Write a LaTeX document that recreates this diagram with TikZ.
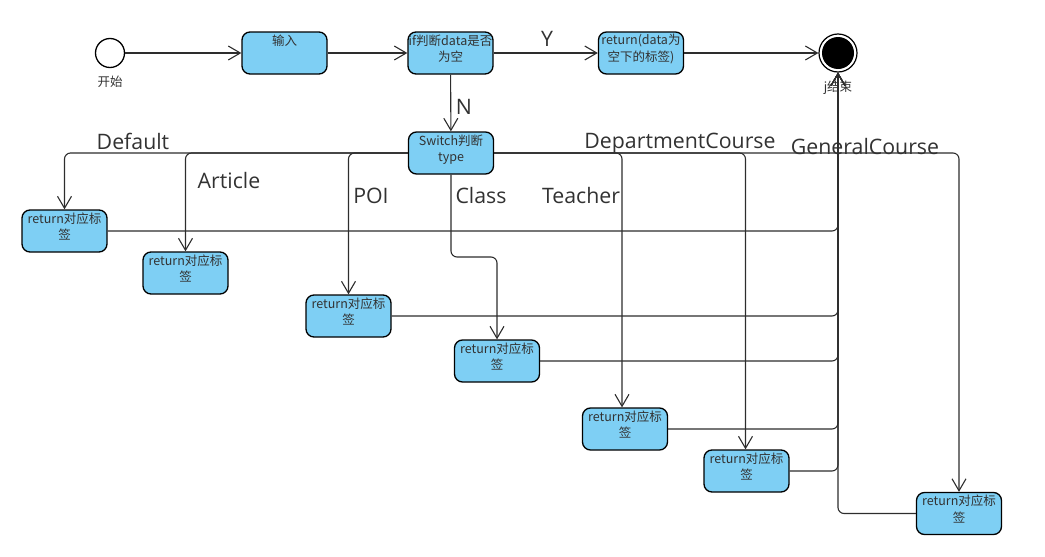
\documentclass[tikz,border=0pt]{standalone}
\usepackage{fontspec}
\setmainfont{Open Sans}
\newfontfamily\cjk{Noto Sans CJK SC}
\usetikzlibrary{arrows.meta}
\definecolor{boxblue}{RGB}{126,207,244}
\definecolor{ln}{RGB}{45,45,45}
\definecolor{txt}{RGB}{50,50,50}
\newcommand{\bxt}[1]{\parbox[c][42pt][t]{85pt}{\centering\vspace*{2.5pt}#1}}
\tikzset{
  box/.style={draw=black, line width=1.3pt, fill=boxblue, rounded corners=8pt,
    inner sep=0pt, minimum width=85pt, minimum height=42pt,
    font=\cjk\fontsize{12.5}{16.5}\selectfont, text=txt},
  conn/.style={draw=ln, line width=1.1pt, line join=round,
    -{Straight Barb[length=12pt,width=14pt,line width=1.1pt]}},
  bent/.style={conn, rounded corners=6pt},
  lbl/.style={font=\fontsize{21.3}{25}\selectfont, text=txt, inner sep=0pt, anchor=base},
  small/.style={font=\cjk\fontsize{12.5}{15}\selectfont, text=txt, inner sep=0pt},
}
\begin{document}
\begin{tikzpicture}[x=1pt,y=-1pt]
\useasboundingbox (0,0) rectangle (1045,557);
% start / end
\node[circle, draw=black, fill=white, line width=1.3pt, minimum size=29pt, inner sep=0pt] (st) at (110,53) {};
\node[small] (stl) at (110,82) {开始};
\node[circle, draw=black, fill=white, line width=1.2pt, minimum size=38pt, inner sep=0pt] (en) at (838,53) {};
\node[circle, fill=black, minimum size=32pt, inner sep=0pt] (eni) at (838,53) {};
\node[small] (enl) at (838,88) {j结束};
% top row
\node[box] (in) at (284.5,53) {\bxt{输入}};
\node[box] (if) at (450.5,53) {\bxt{if判断data是否\\为空}};
\node[box] (ry) at (641,53) {\bxt{return(data为\\空下的标签)}};
\node[box] (sw) at (451,153) {\bxt{Switch判断\\type}};
% return boxes
\node[box] (b1) at (64.5,231) {\bxt{return对应标\\签}};
\node[box] (b2) at (185.5,273) {\bxt{return对应标\\签}};
\node[box] (b3) at (348.5,316) {\bxt{return对应标\\签}};
\node[box] (b4) at (497,361) {\bxt{return对应标\\签}};
\node[box] (b5) at (625,429) {\bxt{return对应标\\签}};
\node[box] (b6) at (746.5,471) {\bxt{return对应标\\签}};
\node[box] (b7) at (959,513.5) {\bxt{return对应标\\签}};
% top connectors
\draw[conn] (st) -- (in);
\draw[conn] (in) -- (if);
\draw[conn] (if) -- (ry);
\draw[conn] (ry) -- (en);
\draw[conn] (if) -- (sw);
\node[lbl] (ly) at (547,46) {Y};
\node[lbl] (ln) at (464,114) {N};
% branches
\coordinate (cb) at (451,257);
\draw[bent] (sw.west) -| (b1.north);
\draw[bent] (sw.west) -| (b2.north);
\draw[bent] (sw.west) -| (b3.north);
\draw[bent] (sw.south) -- (cb) -| (b4.north);
\draw[bent] (sw.east) -| ([xshift=-3pt]b5.north);
\draw[bent] (sw.east) -| ([xshift=-1pt]b6.north);
\draw[bent] (sw.east) -| (b7.north);
\node[lbl] (l1) at (133,149) {Default};
\node[lbl] (l2) at (229,188) {Article};
\node[lbl] (l3) at (371,203) {POI};
\node[lbl] (l4) at (481,203) {Class};
\node[lbl] (l5) at (581,203) {Teacher};
\node[lbl] (l6) at (680,148) {DepartmentCourse};
\node[lbl] (l7) at (865,154) {GeneralCourse};
% returns
\draw[bent] (b1.east) -| (en.south);
\draw[bent] (b3.east) -| (en.south);
\draw[bent] (b4.east) -| (en.south);
\draw[bent] (b5.east) -| (en.south);
\draw[bent] (b6.east) -| (en.south);
\draw[bent] (b7.west) -| (en.south);
\end{tikzpicture}
\end{document}
